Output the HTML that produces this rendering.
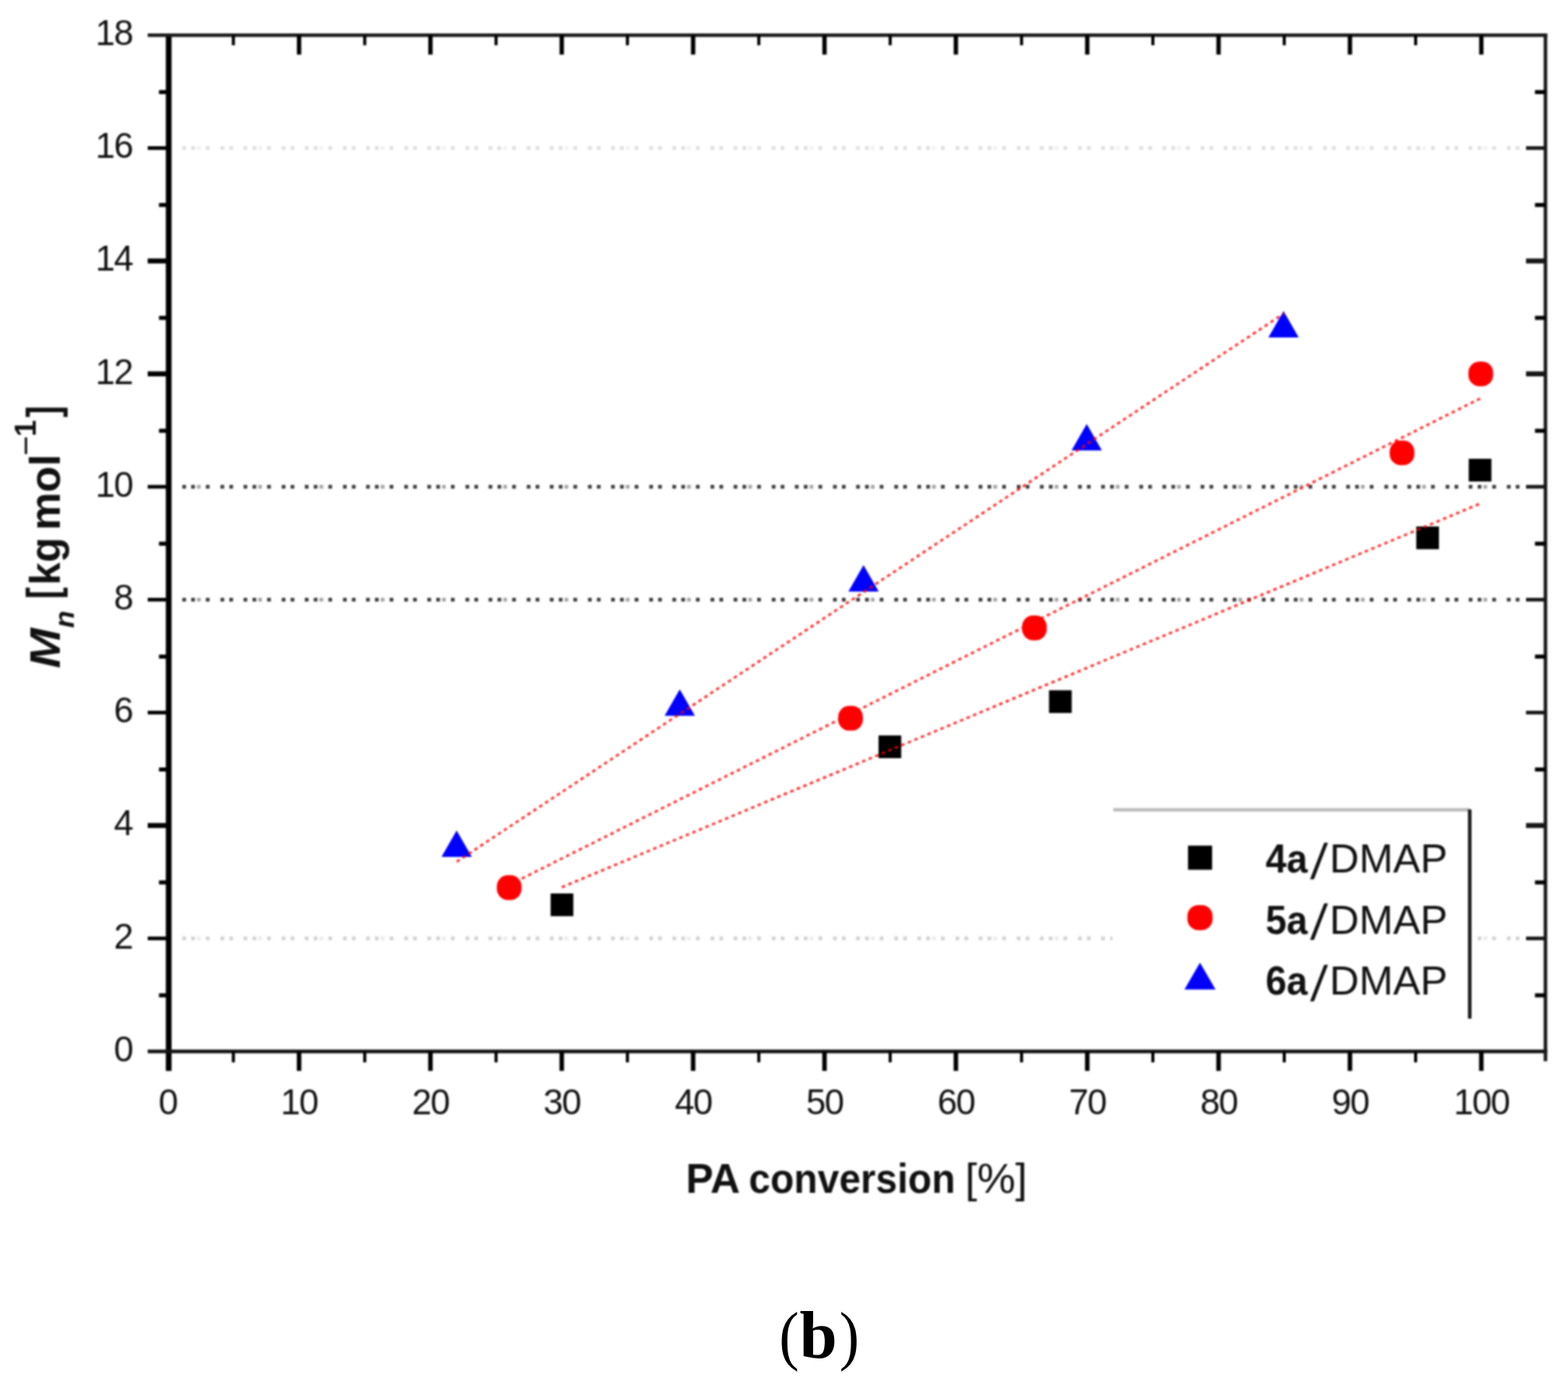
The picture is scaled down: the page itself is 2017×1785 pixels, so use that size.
<!DOCTYPE html>
<html lang="en"><head><meta charset="utf-8"><title>Mn vs PA conversion (b)</title>
<style>html,body{margin:0;padding:0;background:#fff}body{width:2017px;height:1785px;overflow:hidden}svg{display:block}.t{font-family:"Liberation Sans",sans-serif;fill:#111}.s{font-family:"Liberation Serif",serif;fill:#000}</style></head><body>
<svg width="2017" height="1785" viewBox="0 0 2017 1785">
<rect width="2017" height="1785" fill="#fff"/>
<defs><filter id="soft" filterUnits="userSpaceOnUse" x="0" y="0" width="2017" height="1620" color-interpolation-filters="sRGB"><feGaussianBlur stdDeviation="0.9"/></filter></defs>
<g filter="url(#soft)">
<rect width="2017" height="1620" fill="#fff"/>
<g fill="#dfdfdf">
<rect x="234.5" y="188.0" width="4.8" height="4.8" opacity="1.00"/>
<rect x="245.9" y="188.0" width="4.8" height="4.8" opacity="1.00"/>
<rect x="253.4" y="188.0" width="4.8" height="4.8" opacity="0.45"/>
<rect x="264.8" y="188.0" width="4.8" height="4.8" opacity="1.00"/>
<rect x="283.6" y="188.0" width="4.8" height="4.8" opacity="1.00"/>
<rect x="295.0" y="188.0" width="4.8" height="4.8" opacity="1.00"/>
<rect x="313.3" y="188.0" width="4.8" height="4.8" opacity="1.00"/>
<rect x="324.8" y="188.0" width="4.8" height="4.8" opacity="1.00"/>
<rect x="332.2" y="188.0" width="4.8" height="4.8" opacity="0.45"/>
<rect x="343.6" y="188.0" width="4.8" height="4.8" opacity="1.00"/>
<rect x="362.4" y="188.0" width="4.8" height="4.8" opacity="1.00"/>
<rect x="373.8" y="188.0" width="4.8" height="4.8" opacity="1.00"/>
<rect x="392.1" y="188.0" width="4.8" height="4.8" opacity="1.00"/>
<rect x="403.6" y="188.0" width="4.8" height="4.8" opacity="1.00"/>
<rect x="411.0" y="188.0" width="4.8" height="4.8" opacity="0.45"/>
<rect x="422.4" y="188.0" width="4.8" height="4.8" opacity="1.00"/>
<rect x="441.2" y="188.0" width="4.8" height="4.8" opacity="1.00"/>
<rect x="452.6" y="188.0" width="4.8" height="4.8" opacity="1.00"/>
<rect x="470.9" y="188.0" width="4.8" height="4.8" opacity="1.00"/>
<rect x="482.3" y="188.0" width="4.8" height="4.8" opacity="1.00"/>
<rect x="489.8" y="188.0" width="4.8" height="4.8" opacity="0.45"/>
<rect x="501.2" y="188.0" width="4.8" height="4.8" opacity="1.00"/>
<rect x="520.0" y="188.0" width="4.8" height="4.8" opacity="1.00"/>
<rect x="531.4" y="188.0" width="4.8" height="4.8" opacity="1.00"/>
<rect x="549.7" y="188.0" width="4.8" height="4.8" opacity="1.00"/>
<rect x="561.2" y="188.0" width="4.8" height="4.8" opacity="1.00"/>
<rect x="568.6" y="188.0" width="4.8" height="4.8" opacity="0.45"/>
<rect x="580.0" y="188.0" width="4.8" height="4.8" opacity="1.00"/>
<rect x="598.8" y="188.0" width="4.8" height="4.8" opacity="1.00"/>
<rect x="610.2" y="188.0" width="4.8" height="4.8" opacity="1.00"/>
<rect x="628.5" y="188.0" width="4.8" height="4.8" opacity="1.00"/>
<rect x="640.0" y="188.0" width="4.8" height="4.8" opacity="1.00"/>
<rect x="647.4" y="188.0" width="4.8" height="4.8" opacity="0.45"/>
<rect x="658.8" y="188.0" width="4.8" height="4.8" opacity="1.00"/>
<rect x="677.6" y="188.0" width="4.8" height="4.8" opacity="1.00"/>
<rect x="689.0" y="188.0" width="4.8" height="4.8" opacity="1.00"/>
<rect x="707.3" y="188.0" width="4.8" height="4.8" opacity="1.00"/>
<rect x="718.8" y="188.0" width="4.8" height="4.8" opacity="1.00"/>
<rect x="726.2" y="188.0" width="4.8" height="4.8" opacity="0.45"/>
<rect x="737.6" y="188.0" width="4.8" height="4.8" opacity="1.00"/>
<rect x="756.4" y="188.0" width="4.8" height="4.8" opacity="1.00"/>
<rect x="767.8" y="188.0" width="4.8" height="4.8" opacity="1.00"/>
<rect x="786.1" y="188.0" width="4.8" height="4.8" opacity="1.00"/>
<rect x="797.6" y="188.0" width="4.8" height="4.8" opacity="1.00"/>
<rect x="805.0" y="188.0" width="4.8" height="4.8" opacity="0.45"/>
<rect x="816.4" y="188.0" width="4.8" height="4.8" opacity="1.00"/>
<rect x="835.2" y="188.0" width="4.8" height="4.8" opacity="1.00"/>
<rect x="846.6" y="188.0" width="4.8" height="4.8" opacity="1.00"/>
<rect x="864.9" y="188.0" width="4.8" height="4.8" opacity="1.00"/>
<rect x="876.4" y="188.0" width="4.8" height="4.8" opacity="1.00"/>
<rect x="883.8" y="188.0" width="4.8" height="4.8" opacity="0.45"/>
<rect x="895.2" y="188.0" width="4.8" height="4.8" opacity="1.00"/>
<rect x="914.0" y="188.0" width="4.8" height="4.8" opacity="1.00"/>
<rect x="925.4" y="188.0" width="4.8" height="4.8" opacity="1.00"/>
<rect x="943.7" y="188.0" width="4.8" height="4.8" opacity="1.00"/>
<rect x="955.1" y="188.0" width="4.8" height="4.8" opacity="1.00"/>
<rect x="962.6" y="188.0" width="4.8" height="4.8" opacity="0.45"/>
<rect x="974.0" y="188.0" width="4.8" height="4.8" opacity="1.00"/>
<rect x="992.8" y="188.0" width="4.8" height="4.8" opacity="1.00"/>
<rect x="1004.2" y="188.0" width="4.8" height="4.8" opacity="1.00"/>
<rect x="1022.5" y="188.0" width="4.8" height="4.8" opacity="1.00"/>
<rect x="1034.0" y="188.0" width="4.8" height="4.8" opacity="1.00"/>
<rect x="1041.4" y="188.0" width="4.8" height="4.8" opacity="0.45"/>
<rect x="1052.8" y="188.0" width="4.8" height="4.8" opacity="1.00"/>
<rect x="1071.6" y="188.0" width="4.8" height="4.8" opacity="1.00"/>
<rect x="1083.0" y="188.0" width="4.8" height="4.8" opacity="1.00"/>
<rect x="1101.3" y="188.0" width="4.8" height="4.8" opacity="1.00"/>
<rect x="1112.8" y="188.0" width="4.8" height="4.8" opacity="1.00"/>
<rect x="1120.2" y="188.0" width="4.8" height="4.8" opacity="0.45"/>
<rect x="1131.6" y="188.0" width="4.8" height="4.8" opacity="1.00"/>
<rect x="1150.4" y="188.0" width="4.8" height="4.8" opacity="1.00"/>
<rect x="1161.8" y="188.0" width="4.8" height="4.8" opacity="1.00"/>
<rect x="1180.1" y="188.0" width="4.8" height="4.8" opacity="1.00"/>
<rect x="1191.5" y="188.0" width="4.8" height="4.8" opacity="1.00"/>
<rect x="1199.0" y="188.0" width="4.8" height="4.8" opacity="0.45"/>
<rect x="1210.4" y="188.0" width="4.8" height="4.8" opacity="1.00"/>
<rect x="1229.2" y="188.0" width="4.8" height="4.8" opacity="1.00"/>
<rect x="1240.6" y="188.0" width="4.8" height="4.8" opacity="1.00"/>
<rect x="1258.9" y="188.0" width="4.8" height="4.8" opacity="1.00"/>
<rect x="1270.3" y="188.0" width="4.8" height="4.8" opacity="1.00"/>
<rect x="1277.8" y="188.0" width="4.8" height="4.8" opacity="0.45"/>
<rect x="1289.2" y="188.0" width="4.8" height="4.8" opacity="1.00"/>
<rect x="1308.0" y="188.0" width="4.8" height="4.8" opacity="1.00"/>
<rect x="1319.4" y="188.0" width="4.8" height="4.8" opacity="1.00"/>
<rect x="1337.7" y="188.0" width="4.8" height="4.8" opacity="1.00"/>
<rect x="1349.2" y="188.0" width="4.8" height="4.8" opacity="1.00"/>
<rect x="1356.6" y="188.0" width="4.8" height="4.8" opacity="0.45"/>
<rect x="1368.0" y="188.0" width="4.8" height="4.8" opacity="1.00"/>
<rect x="1386.8" y="188.0" width="4.8" height="4.8" opacity="1.00"/>
<rect x="1398.2" y="188.0" width="4.8" height="4.8" opacity="1.00"/>
<rect x="1416.5" y="188.0" width="4.8" height="4.8" opacity="1.00"/>
<rect x="1428.0" y="188.0" width="4.8" height="4.8" opacity="1.00"/>
<rect x="1435.4" y="188.0" width="4.8" height="4.8" opacity="0.45"/>
<rect x="1446.8" y="188.0" width="4.8" height="4.8" opacity="1.00"/>
<rect x="1465.6" y="188.0" width="4.8" height="4.8" opacity="1.00"/>
<rect x="1477.0" y="188.0" width="4.8" height="4.8" opacity="1.00"/>
<rect x="1495.3" y="188.0" width="4.8" height="4.8" opacity="1.00"/>
<rect x="1506.8" y="188.0" width="4.8" height="4.8" opacity="1.00"/>
<rect x="1514.2" y="188.0" width="4.8" height="4.8" opacity="0.45"/>
<rect x="1525.6" y="188.0" width="4.8" height="4.8" opacity="1.00"/>
<rect x="1544.4" y="188.0" width="4.8" height="4.8" opacity="1.00"/>
<rect x="1555.8" y="188.0" width="4.8" height="4.8" opacity="1.00"/>
<rect x="1574.1" y="188.0" width="4.8" height="4.8" opacity="1.00"/>
<rect x="1585.5" y="188.0" width="4.8" height="4.8" opacity="1.00"/>
<rect x="1593.0" y="188.0" width="4.8" height="4.8" opacity="0.45"/>
<rect x="1604.4" y="188.0" width="4.8" height="4.8" opacity="1.00"/>
<rect x="1623.2" y="188.0" width="4.8" height="4.8" opacity="1.00"/>
<rect x="1634.6" y="188.0" width="4.8" height="4.8" opacity="1.00"/>
<rect x="1652.9" y="188.0" width="4.8" height="4.8" opacity="1.00"/>
<rect x="1664.3" y="188.0" width="4.8" height="4.8" opacity="1.00"/>
<rect x="1671.8" y="188.0" width="4.8" height="4.8" opacity="0.45"/>
<rect x="1683.2" y="188.0" width="4.8" height="4.8" opacity="1.00"/>
<rect x="1702.0" y="188.0" width="4.8" height="4.8" opacity="1.00"/>
<rect x="1713.4" y="188.0" width="4.8" height="4.8" opacity="1.00"/>
<rect x="1731.7" y="188.0" width="4.8" height="4.8" opacity="1.00"/>
<rect x="1743.2" y="188.0" width="4.8" height="4.8" opacity="1.00"/>
<rect x="1750.6" y="188.0" width="4.8" height="4.8" opacity="0.45"/>
<rect x="1762.0" y="188.0" width="4.8" height="4.8" opacity="1.00"/>
<rect x="1780.8" y="188.0" width="4.8" height="4.8" opacity="1.00"/>
<rect x="1792.2" y="188.0" width="4.8" height="4.8" opacity="1.00"/>
<rect x="1810.5" y="188.0" width="4.8" height="4.8" opacity="1.00"/>
<rect x="1822.0" y="188.0" width="4.8" height="4.8" opacity="1.00"/>
<rect x="1829.4" y="188.0" width="4.8" height="4.8" opacity="0.45"/>
<rect x="1840.8" y="188.0" width="4.8" height="4.8" opacity="1.00"/>
<rect x="1859.6" y="188.0" width="4.8" height="4.8" opacity="1.00"/>
<rect x="1871.0" y="188.0" width="4.8" height="4.8" opacity="1.00"/>
<rect x="1889.3" y="188.0" width="4.8" height="4.8" opacity="1.00"/>
<rect x="1900.8" y="188.0" width="4.8" height="4.8" opacity="1.00"/>
<rect x="1908.2" y="188.0" width="4.8" height="4.8" opacity="0.45"/>
<rect x="1919.6" y="188.0" width="4.8" height="4.8" opacity="1.00"/>
<rect x="1938.4" y="188.0" width="4.8" height="4.8" opacity="1.00"/>
<rect x="1949.8" y="188.0" width="4.8" height="4.8" opacity="1.00"/>
</g>
<g fill="#3c3c3c">
<rect x="234.5" y="623.6" width="4.8" height="4.8" opacity="1.00"/>
<rect x="245.9" y="623.6" width="4.8" height="4.8" opacity="1.00"/>
<rect x="253.4" y="623.6" width="4.8" height="4.8" opacity="0.45"/>
<rect x="264.8" y="623.6" width="4.8" height="4.8" opacity="1.00"/>
<rect x="283.6" y="623.6" width="4.8" height="4.8" opacity="1.00"/>
<rect x="295.0" y="623.6" width="4.8" height="4.8" opacity="1.00"/>
<rect x="313.3" y="623.6" width="4.8" height="4.8" opacity="1.00"/>
<rect x="324.8" y="623.6" width="4.8" height="4.8" opacity="1.00"/>
<rect x="332.2" y="623.6" width="4.8" height="4.8" opacity="0.45"/>
<rect x="343.6" y="623.6" width="4.8" height="4.8" opacity="1.00"/>
<rect x="362.4" y="623.6" width="4.8" height="4.8" opacity="1.00"/>
<rect x="373.8" y="623.6" width="4.8" height="4.8" opacity="1.00"/>
<rect x="392.1" y="623.6" width="4.8" height="4.8" opacity="1.00"/>
<rect x="403.6" y="623.6" width="4.8" height="4.8" opacity="1.00"/>
<rect x="411.0" y="623.6" width="4.8" height="4.8" opacity="0.45"/>
<rect x="422.4" y="623.6" width="4.8" height="4.8" opacity="1.00"/>
<rect x="441.2" y="623.6" width="4.8" height="4.8" opacity="1.00"/>
<rect x="452.6" y="623.6" width="4.8" height="4.8" opacity="1.00"/>
<rect x="470.9" y="623.6" width="4.8" height="4.8" opacity="1.00"/>
<rect x="482.3" y="623.6" width="4.8" height="4.8" opacity="1.00"/>
<rect x="489.8" y="623.6" width="4.8" height="4.8" opacity="0.45"/>
<rect x="501.2" y="623.6" width="4.8" height="4.8" opacity="1.00"/>
<rect x="520.0" y="623.6" width="4.8" height="4.8" opacity="1.00"/>
<rect x="531.4" y="623.6" width="4.8" height="4.8" opacity="1.00"/>
<rect x="549.7" y="623.6" width="4.8" height="4.8" opacity="1.00"/>
<rect x="561.2" y="623.6" width="4.8" height="4.8" opacity="1.00"/>
<rect x="568.6" y="623.6" width="4.8" height="4.8" opacity="0.45"/>
<rect x="580.0" y="623.6" width="4.8" height="4.8" opacity="1.00"/>
<rect x="598.8" y="623.6" width="4.8" height="4.8" opacity="1.00"/>
<rect x="610.2" y="623.6" width="4.8" height="4.8" opacity="1.00"/>
<rect x="628.5" y="623.6" width="4.8" height="4.8" opacity="1.00"/>
<rect x="640.0" y="623.6" width="4.8" height="4.8" opacity="1.00"/>
<rect x="647.4" y="623.6" width="4.8" height="4.8" opacity="0.45"/>
<rect x="658.8" y="623.6" width="4.8" height="4.8" opacity="1.00"/>
<rect x="677.6" y="623.6" width="4.8" height="4.8" opacity="1.00"/>
<rect x="689.0" y="623.6" width="4.8" height="4.8" opacity="1.00"/>
<rect x="707.3" y="623.6" width="4.8" height="4.8" opacity="1.00"/>
<rect x="718.8" y="623.6" width="4.8" height="4.8" opacity="1.00"/>
<rect x="726.2" y="623.6" width="4.8" height="4.8" opacity="0.45"/>
<rect x="737.6" y="623.6" width="4.8" height="4.8" opacity="1.00"/>
<rect x="756.4" y="623.6" width="4.8" height="4.8" opacity="1.00"/>
<rect x="767.8" y="623.6" width="4.8" height="4.8" opacity="1.00"/>
<rect x="786.1" y="623.6" width="4.8" height="4.8" opacity="1.00"/>
<rect x="797.6" y="623.6" width="4.8" height="4.8" opacity="1.00"/>
<rect x="805.0" y="623.6" width="4.8" height="4.8" opacity="0.45"/>
<rect x="816.4" y="623.6" width="4.8" height="4.8" opacity="1.00"/>
<rect x="835.2" y="623.6" width="4.8" height="4.8" opacity="1.00"/>
<rect x="846.6" y="623.6" width="4.8" height="4.8" opacity="1.00"/>
<rect x="864.9" y="623.6" width="4.8" height="4.8" opacity="1.00"/>
<rect x="876.4" y="623.6" width="4.8" height="4.8" opacity="1.00"/>
<rect x="883.8" y="623.6" width="4.8" height="4.8" opacity="0.45"/>
<rect x="895.2" y="623.6" width="4.8" height="4.8" opacity="1.00"/>
<rect x="914.0" y="623.6" width="4.8" height="4.8" opacity="1.00"/>
<rect x="925.4" y="623.6" width="4.8" height="4.8" opacity="1.00"/>
<rect x="943.7" y="623.6" width="4.8" height="4.8" opacity="1.00"/>
<rect x="955.1" y="623.6" width="4.8" height="4.8" opacity="1.00"/>
<rect x="962.6" y="623.6" width="4.8" height="4.8" opacity="0.45"/>
<rect x="974.0" y="623.6" width="4.8" height="4.8" opacity="1.00"/>
<rect x="992.8" y="623.6" width="4.8" height="4.8" opacity="1.00"/>
<rect x="1004.2" y="623.6" width="4.8" height="4.8" opacity="1.00"/>
<rect x="1022.5" y="623.6" width="4.8" height="4.8" opacity="1.00"/>
<rect x="1034.0" y="623.6" width="4.8" height="4.8" opacity="1.00"/>
<rect x="1041.4" y="623.6" width="4.8" height="4.8" opacity="0.45"/>
<rect x="1052.8" y="623.6" width="4.8" height="4.8" opacity="1.00"/>
<rect x="1071.6" y="623.6" width="4.8" height="4.8" opacity="1.00"/>
<rect x="1083.0" y="623.6" width="4.8" height="4.8" opacity="1.00"/>
<rect x="1101.3" y="623.6" width="4.8" height="4.8" opacity="1.00"/>
<rect x="1112.8" y="623.6" width="4.8" height="4.8" opacity="1.00"/>
<rect x="1120.2" y="623.6" width="4.8" height="4.8" opacity="0.45"/>
<rect x="1131.6" y="623.6" width="4.8" height="4.8" opacity="1.00"/>
<rect x="1150.4" y="623.6" width="4.8" height="4.8" opacity="1.00"/>
<rect x="1161.8" y="623.6" width="4.8" height="4.8" opacity="1.00"/>
<rect x="1180.1" y="623.6" width="4.8" height="4.8" opacity="1.00"/>
<rect x="1191.5" y="623.6" width="4.8" height="4.8" opacity="1.00"/>
<rect x="1199.0" y="623.6" width="4.8" height="4.8" opacity="0.45"/>
<rect x="1210.4" y="623.6" width="4.8" height="4.8" opacity="1.00"/>
<rect x="1229.2" y="623.6" width="4.8" height="4.8" opacity="1.00"/>
<rect x="1240.6" y="623.6" width="4.8" height="4.8" opacity="1.00"/>
<rect x="1258.9" y="623.6" width="4.8" height="4.8" opacity="1.00"/>
<rect x="1270.3" y="623.6" width="4.8" height="4.8" opacity="1.00"/>
<rect x="1277.8" y="623.6" width="4.8" height="4.8" opacity="0.45"/>
<rect x="1289.2" y="623.6" width="4.8" height="4.8" opacity="1.00"/>
<rect x="1308.0" y="623.6" width="4.8" height="4.8" opacity="1.00"/>
<rect x="1319.4" y="623.6" width="4.8" height="4.8" opacity="1.00"/>
<rect x="1337.7" y="623.6" width="4.8" height="4.8" opacity="1.00"/>
<rect x="1349.2" y="623.6" width="4.8" height="4.8" opacity="1.00"/>
<rect x="1356.6" y="623.6" width="4.8" height="4.8" opacity="0.45"/>
<rect x="1368.0" y="623.6" width="4.8" height="4.8" opacity="1.00"/>
<rect x="1386.8" y="623.6" width="4.8" height="4.8" opacity="1.00"/>
<rect x="1398.2" y="623.6" width="4.8" height="4.8" opacity="1.00"/>
<rect x="1416.5" y="623.6" width="4.8" height="4.8" opacity="1.00"/>
<rect x="1428.0" y="623.6" width="4.8" height="4.8" opacity="1.00"/>
<rect x="1435.4" y="623.6" width="4.8" height="4.8" opacity="0.45"/>
<rect x="1446.8" y="623.6" width="4.8" height="4.8" opacity="1.00"/>
<rect x="1465.6" y="623.6" width="4.8" height="4.8" opacity="1.00"/>
<rect x="1477.0" y="623.6" width="4.8" height="4.8" opacity="1.00"/>
<rect x="1495.3" y="623.6" width="4.8" height="4.8" opacity="1.00"/>
<rect x="1506.8" y="623.6" width="4.8" height="4.8" opacity="1.00"/>
<rect x="1514.2" y="623.6" width="4.8" height="4.8" opacity="0.45"/>
<rect x="1525.6" y="623.6" width="4.8" height="4.8" opacity="1.00"/>
<rect x="1544.4" y="623.6" width="4.8" height="4.8" opacity="1.00"/>
<rect x="1555.8" y="623.6" width="4.8" height="4.8" opacity="1.00"/>
<rect x="1574.1" y="623.6" width="4.8" height="4.8" opacity="1.00"/>
<rect x="1585.5" y="623.6" width="4.8" height="4.8" opacity="1.00"/>
<rect x="1593.0" y="623.6" width="4.8" height="4.8" opacity="0.45"/>
<rect x="1604.4" y="623.6" width="4.8" height="4.8" opacity="1.00"/>
<rect x="1623.2" y="623.6" width="4.8" height="4.8" opacity="1.00"/>
<rect x="1634.6" y="623.6" width="4.8" height="4.8" opacity="1.00"/>
<rect x="1652.9" y="623.6" width="4.8" height="4.8" opacity="1.00"/>
<rect x="1664.3" y="623.6" width="4.8" height="4.8" opacity="1.00"/>
<rect x="1671.8" y="623.6" width="4.8" height="4.8" opacity="0.45"/>
<rect x="1683.2" y="623.6" width="4.8" height="4.8" opacity="1.00"/>
<rect x="1702.0" y="623.6" width="4.8" height="4.8" opacity="1.00"/>
<rect x="1713.4" y="623.6" width="4.8" height="4.8" opacity="1.00"/>
<rect x="1731.7" y="623.6" width="4.8" height="4.8" opacity="1.00"/>
<rect x="1743.2" y="623.6" width="4.8" height="4.8" opacity="1.00"/>
<rect x="1750.6" y="623.6" width="4.8" height="4.8" opacity="0.45"/>
<rect x="1762.0" y="623.6" width="4.8" height="4.8" opacity="1.00"/>
<rect x="1780.8" y="623.6" width="4.8" height="4.8" opacity="1.00"/>
<rect x="1792.2" y="623.6" width="4.8" height="4.8" opacity="1.00"/>
<rect x="1810.5" y="623.6" width="4.8" height="4.8" opacity="1.00"/>
<rect x="1822.0" y="623.6" width="4.8" height="4.8" opacity="1.00"/>
<rect x="1829.4" y="623.6" width="4.8" height="4.8" opacity="0.45"/>
<rect x="1840.8" y="623.6" width="4.8" height="4.8" opacity="1.00"/>
<rect x="1859.6" y="623.6" width="4.8" height="4.8" opacity="1.00"/>
<rect x="1871.0" y="623.6" width="4.8" height="4.8" opacity="1.00"/>
<rect x="1889.3" y="623.6" width="4.8" height="4.8" opacity="1.00"/>
<rect x="1900.8" y="623.6" width="4.8" height="4.8" opacity="1.00"/>
<rect x="1908.2" y="623.6" width="4.8" height="4.8" opacity="0.45"/>
<rect x="1919.6" y="623.6" width="4.8" height="4.8" opacity="1.00"/>
<rect x="1938.4" y="623.6" width="4.8" height="4.8" opacity="1.00"/>
<rect x="1949.8" y="623.6" width="4.8" height="4.8" opacity="1.00"/>
</g>
<g fill="#3c3c3c">
<rect x="234.5" y="768.8" width="4.8" height="4.8" opacity="1.00"/>
<rect x="245.9" y="768.8" width="4.8" height="4.8" opacity="1.00"/>
<rect x="253.4" y="768.8" width="4.8" height="4.8" opacity="0.45"/>
<rect x="264.8" y="768.8" width="4.8" height="4.8" opacity="1.00"/>
<rect x="283.6" y="768.8" width="4.8" height="4.8" opacity="1.00"/>
<rect x="295.0" y="768.8" width="4.8" height="4.8" opacity="1.00"/>
<rect x="313.3" y="768.8" width="4.8" height="4.8" opacity="1.00"/>
<rect x="324.8" y="768.8" width="4.8" height="4.8" opacity="1.00"/>
<rect x="332.2" y="768.8" width="4.8" height="4.8" opacity="0.45"/>
<rect x="343.6" y="768.8" width="4.8" height="4.8" opacity="1.00"/>
<rect x="362.4" y="768.8" width="4.8" height="4.8" opacity="1.00"/>
<rect x="373.8" y="768.8" width="4.8" height="4.8" opacity="1.00"/>
<rect x="392.1" y="768.8" width="4.8" height="4.8" opacity="1.00"/>
<rect x="403.6" y="768.8" width="4.8" height="4.8" opacity="1.00"/>
<rect x="411.0" y="768.8" width="4.8" height="4.8" opacity="0.45"/>
<rect x="422.4" y="768.8" width="4.8" height="4.8" opacity="1.00"/>
<rect x="441.2" y="768.8" width="4.8" height="4.8" opacity="1.00"/>
<rect x="452.6" y="768.8" width="4.8" height="4.8" opacity="1.00"/>
<rect x="470.9" y="768.8" width="4.8" height="4.8" opacity="1.00"/>
<rect x="482.3" y="768.8" width="4.8" height="4.8" opacity="1.00"/>
<rect x="489.8" y="768.8" width="4.8" height="4.8" opacity="0.45"/>
<rect x="501.2" y="768.8" width="4.8" height="4.8" opacity="1.00"/>
<rect x="520.0" y="768.8" width="4.8" height="4.8" opacity="1.00"/>
<rect x="531.4" y="768.8" width="4.8" height="4.8" opacity="1.00"/>
<rect x="549.7" y="768.8" width="4.8" height="4.8" opacity="1.00"/>
<rect x="561.2" y="768.8" width="4.8" height="4.8" opacity="1.00"/>
<rect x="568.6" y="768.8" width="4.8" height="4.8" opacity="0.45"/>
<rect x="580.0" y="768.8" width="4.8" height="4.8" opacity="1.00"/>
<rect x="598.8" y="768.8" width="4.8" height="4.8" opacity="1.00"/>
<rect x="610.2" y="768.8" width="4.8" height="4.8" opacity="1.00"/>
<rect x="628.5" y="768.8" width="4.8" height="4.8" opacity="1.00"/>
<rect x="640.0" y="768.8" width="4.8" height="4.8" opacity="1.00"/>
<rect x="647.4" y="768.8" width="4.8" height="4.8" opacity="0.45"/>
<rect x="658.8" y="768.8" width="4.8" height="4.8" opacity="1.00"/>
<rect x="677.6" y="768.8" width="4.8" height="4.8" opacity="1.00"/>
<rect x="689.0" y="768.8" width="4.8" height="4.8" opacity="1.00"/>
<rect x="707.3" y="768.8" width="4.8" height="4.8" opacity="1.00"/>
<rect x="718.8" y="768.8" width="4.8" height="4.8" opacity="1.00"/>
<rect x="726.2" y="768.8" width="4.8" height="4.8" opacity="0.45"/>
<rect x="737.6" y="768.8" width="4.8" height="4.8" opacity="1.00"/>
<rect x="756.4" y="768.8" width="4.8" height="4.8" opacity="1.00"/>
<rect x="767.8" y="768.8" width="4.8" height="4.8" opacity="1.00"/>
<rect x="786.1" y="768.8" width="4.8" height="4.8" opacity="1.00"/>
<rect x="797.6" y="768.8" width="4.8" height="4.8" opacity="1.00"/>
<rect x="805.0" y="768.8" width="4.8" height="4.8" opacity="0.45"/>
<rect x="816.4" y="768.8" width="4.8" height="4.8" opacity="1.00"/>
<rect x="835.2" y="768.8" width="4.8" height="4.8" opacity="1.00"/>
<rect x="846.6" y="768.8" width="4.8" height="4.8" opacity="1.00"/>
<rect x="864.9" y="768.8" width="4.8" height="4.8" opacity="1.00"/>
<rect x="876.4" y="768.8" width="4.8" height="4.8" opacity="1.00"/>
<rect x="883.8" y="768.8" width="4.8" height="4.8" opacity="0.45"/>
<rect x="895.2" y="768.8" width="4.8" height="4.8" opacity="1.00"/>
<rect x="914.0" y="768.8" width="4.8" height="4.8" opacity="1.00"/>
<rect x="925.4" y="768.8" width="4.8" height="4.8" opacity="1.00"/>
<rect x="943.7" y="768.8" width="4.8" height="4.8" opacity="1.00"/>
<rect x="955.1" y="768.8" width="4.8" height="4.8" opacity="1.00"/>
<rect x="962.6" y="768.8" width="4.8" height="4.8" opacity="0.45"/>
<rect x="974.0" y="768.8" width="4.8" height="4.8" opacity="1.00"/>
<rect x="992.8" y="768.8" width="4.8" height="4.8" opacity="1.00"/>
<rect x="1004.2" y="768.8" width="4.8" height="4.8" opacity="1.00"/>
<rect x="1022.5" y="768.8" width="4.8" height="4.8" opacity="1.00"/>
<rect x="1034.0" y="768.8" width="4.8" height="4.8" opacity="1.00"/>
<rect x="1041.4" y="768.8" width="4.8" height="4.8" opacity="0.45"/>
<rect x="1052.8" y="768.8" width="4.8" height="4.8" opacity="1.00"/>
<rect x="1071.6" y="768.8" width="4.8" height="4.8" opacity="1.00"/>
<rect x="1083.0" y="768.8" width="4.8" height="4.8" opacity="1.00"/>
<rect x="1101.3" y="768.8" width="4.8" height="4.8" opacity="1.00"/>
<rect x="1112.8" y="768.8" width="4.8" height="4.8" opacity="1.00"/>
<rect x="1120.2" y="768.8" width="4.8" height="4.8" opacity="0.45"/>
<rect x="1131.6" y="768.8" width="4.8" height="4.8" opacity="1.00"/>
<rect x="1150.4" y="768.8" width="4.8" height="4.8" opacity="1.00"/>
<rect x="1161.8" y="768.8" width="4.8" height="4.8" opacity="1.00"/>
<rect x="1180.1" y="768.8" width="4.8" height="4.8" opacity="1.00"/>
<rect x="1191.5" y="768.8" width="4.8" height="4.8" opacity="1.00"/>
<rect x="1199.0" y="768.8" width="4.8" height="4.8" opacity="0.45"/>
<rect x="1210.4" y="768.8" width="4.8" height="4.8" opacity="1.00"/>
<rect x="1229.2" y="768.8" width="4.8" height="4.8" opacity="1.00"/>
<rect x="1240.6" y="768.8" width="4.8" height="4.8" opacity="1.00"/>
<rect x="1258.9" y="768.8" width="4.8" height="4.8" opacity="1.00"/>
<rect x="1270.3" y="768.8" width="4.8" height="4.8" opacity="1.00"/>
<rect x="1277.8" y="768.8" width="4.8" height="4.8" opacity="0.45"/>
<rect x="1289.2" y="768.8" width="4.8" height="4.8" opacity="1.00"/>
<rect x="1308.0" y="768.8" width="4.8" height="4.8" opacity="1.00"/>
<rect x="1319.4" y="768.8" width="4.8" height="4.8" opacity="1.00"/>
<rect x="1337.7" y="768.8" width="4.8" height="4.8" opacity="1.00"/>
<rect x="1349.2" y="768.8" width="4.8" height="4.8" opacity="1.00"/>
<rect x="1356.6" y="768.8" width="4.8" height="4.8" opacity="0.45"/>
<rect x="1368.0" y="768.8" width="4.8" height="4.8" opacity="1.00"/>
<rect x="1386.8" y="768.8" width="4.8" height="4.8" opacity="1.00"/>
<rect x="1398.2" y="768.8" width="4.8" height="4.8" opacity="1.00"/>
<rect x="1416.5" y="768.8" width="4.8" height="4.8" opacity="1.00"/>
<rect x="1428.0" y="768.8" width="4.8" height="4.8" opacity="1.00"/>
<rect x="1435.4" y="768.8" width="4.8" height="4.8" opacity="0.45"/>
<rect x="1446.8" y="768.8" width="4.8" height="4.8" opacity="1.00"/>
<rect x="1465.6" y="768.8" width="4.8" height="4.8" opacity="1.00"/>
<rect x="1477.0" y="768.8" width="4.8" height="4.8" opacity="1.00"/>
<rect x="1495.3" y="768.8" width="4.8" height="4.8" opacity="1.00"/>
<rect x="1506.8" y="768.8" width="4.8" height="4.8" opacity="1.00"/>
<rect x="1514.2" y="768.8" width="4.8" height="4.8" opacity="0.45"/>
<rect x="1525.6" y="768.8" width="4.8" height="4.8" opacity="1.00"/>
<rect x="1544.4" y="768.8" width="4.8" height="4.8" opacity="1.00"/>
<rect x="1555.8" y="768.8" width="4.8" height="4.8" opacity="1.00"/>
<rect x="1574.1" y="768.8" width="4.8" height="4.8" opacity="1.00"/>
<rect x="1585.5" y="768.8" width="4.8" height="4.8" opacity="1.00"/>
<rect x="1593.0" y="768.8" width="4.8" height="4.8" opacity="0.45"/>
<rect x="1604.4" y="768.8" width="4.8" height="4.8" opacity="1.00"/>
<rect x="1623.2" y="768.8" width="4.8" height="4.8" opacity="1.00"/>
<rect x="1634.6" y="768.8" width="4.8" height="4.8" opacity="1.00"/>
<rect x="1652.9" y="768.8" width="4.8" height="4.8" opacity="1.00"/>
<rect x="1664.3" y="768.8" width="4.8" height="4.8" opacity="1.00"/>
<rect x="1671.8" y="768.8" width="4.8" height="4.8" opacity="0.45"/>
<rect x="1683.2" y="768.8" width="4.8" height="4.8" opacity="1.00"/>
<rect x="1702.0" y="768.8" width="4.8" height="4.8" opacity="1.00"/>
<rect x="1713.4" y="768.8" width="4.8" height="4.8" opacity="1.00"/>
<rect x="1731.7" y="768.8" width="4.8" height="4.8" opacity="1.00"/>
<rect x="1743.2" y="768.8" width="4.8" height="4.8" opacity="1.00"/>
<rect x="1750.6" y="768.8" width="4.8" height="4.8" opacity="0.45"/>
<rect x="1762.0" y="768.8" width="4.8" height="4.8" opacity="1.00"/>
<rect x="1780.8" y="768.8" width="4.8" height="4.8" opacity="1.00"/>
<rect x="1792.2" y="768.8" width="4.8" height="4.8" opacity="1.00"/>
<rect x="1810.5" y="768.8" width="4.8" height="4.8" opacity="1.00"/>
<rect x="1822.0" y="768.8" width="4.8" height="4.8" opacity="1.00"/>
<rect x="1829.4" y="768.8" width="4.8" height="4.8" opacity="0.45"/>
<rect x="1840.8" y="768.8" width="4.8" height="4.8" opacity="1.00"/>
<rect x="1859.6" y="768.8" width="4.8" height="4.8" opacity="1.00"/>
<rect x="1871.0" y="768.8" width="4.8" height="4.8" opacity="1.00"/>
<rect x="1889.3" y="768.8" width="4.8" height="4.8" opacity="1.00"/>
<rect x="1900.8" y="768.8" width="4.8" height="4.8" opacity="1.00"/>
<rect x="1908.2" y="768.8" width="4.8" height="4.8" opacity="0.45"/>
<rect x="1919.6" y="768.8" width="4.8" height="4.8" opacity="1.00"/>
<rect x="1938.4" y="768.8" width="4.8" height="4.8" opacity="1.00"/>
<rect x="1949.8" y="768.8" width="4.8" height="4.8" opacity="1.00"/>
</g>
<g fill="#d2d2d2">
<rect x="234.5" y="1204.4" width="4.8" height="4.8" opacity="1.00"/>
<rect x="245.9" y="1204.4" width="4.8" height="4.8" opacity="1.00"/>
<rect x="253.4" y="1204.4" width="4.8" height="4.8" opacity="0.45"/>
<rect x="264.8" y="1204.4" width="4.8" height="4.8" opacity="1.00"/>
<rect x="283.6" y="1204.4" width="4.8" height="4.8" opacity="1.00"/>
<rect x="295.0" y="1204.4" width="4.8" height="4.8" opacity="1.00"/>
<rect x="313.3" y="1204.4" width="4.8" height="4.8" opacity="1.00"/>
<rect x="324.8" y="1204.4" width="4.8" height="4.8" opacity="1.00"/>
<rect x="332.2" y="1204.4" width="4.8" height="4.8" opacity="0.45"/>
<rect x="343.6" y="1204.4" width="4.8" height="4.8" opacity="1.00"/>
<rect x="362.4" y="1204.4" width="4.8" height="4.8" opacity="1.00"/>
<rect x="373.8" y="1204.4" width="4.8" height="4.8" opacity="1.00"/>
<rect x="392.1" y="1204.4" width="4.8" height="4.8" opacity="1.00"/>
<rect x="403.6" y="1204.4" width="4.8" height="4.8" opacity="1.00"/>
<rect x="411.0" y="1204.4" width="4.8" height="4.8" opacity="0.45"/>
<rect x="422.4" y="1204.4" width="4.8" height="4.8" opacity="1.00"/>
<rect x="441.2" y="1204.4" width="4.8" height="4.8" opacity="1.00"/>
<rect x="452.6" y="1204.4" width="4.8" height="4.8" opacity="1.00"/>
<rect x="470.9" y="1204.4" width="4.8" height="4.8" opacity="1.00"/>
<rect x="482.3" y="1204.4" width="4.8" height="4.8" opacity="1.00"/>
<rect x="489.8" y="1204.4" width="4.8" height="4.8" opacity="0.45"/>
<rect x="501.2" y="1204.4" width="4.8" height="4.8" opacity="1.00"/>
<rect x="520.0" y="1204.4" width="4.8" height="4.8" opacity="1.00"/>
<rect x="531.4" y="1204.4" width="4.8" height="4.8" opacity="1.00"/>
<rect x="549.7" y="1204.4" width="4.8" height="4.8" opacity="1.00"/>
<rect x="561.2" y="1204.4" width="4.8" height="4.8" opacity="1.00"/>
<rect x="568.6" y="1204.4" width="4.8" height="4.8" opacity="0.45"/>
<rect x="580.0" y="1204.4" width="4.8" height="4.8" opacity="1.00"/>
<rect x="598.8" y="1204.4" width="4.8" height="4.8" opacity="1.00"/>
<rect x="610.2" y="1204.4" width="4.8" height="4.8" opacity="1.00"/>
<rect x="628.5" y="1204.4" width="4.8" height="4.8" opacity="1.00"/>
<rect x="640.0" y="1204.4" width="4.8" height="4.8" opacity="1.00"/>
<rect x="647.4" y="1204.4" width="4.8" height="4.8" opacity="0.45"/>
<rect x="658.8" y="1204.4" width="4.8" height="4.8" opacity="1.00"/>
<rect x="677.6" y="1204.4" width="4.8" height="4.8" opacity="1.00"/>
<rect x="689.0" y="1204.4" width="4.8" height="4.8" opacity="1.00"/>
<rect x="707.3" y="1204.4" width="4.8" height="4.8" opacity="1.00"/>
<rect x="718.8" y="1204.4" width="4.8" height="4.8" opacity="1.00"/>
<rect x="726.2" y="1204.4" width="4.8" height="4.8" opacity="0.45"/>
<rect x="737.6" y="1204.4" width="4.8" height="4.8" opacity="1.00"/>
<rect x="756.4" y="1204.4" width="4.8" height="4.8" opacity="1.00"/>
<rect x="767.8" y="1204.4" width="4.8" height="4.8" opacity="1.00"/>
<rect x="786.1" y="1204.4" width="4.8" height="4.8" opacity="1.00"/>
<rect x="797.6" y="1204.4" width="4.8" height="4.8" opacity="1.00"/>
<rect x="805.0" y="1204.4" width="4.8" height="4.8" opacity="0.45"/>
<rect x="816.4" y="1204.4" width="4.8" height="4.8" opacity="1.00"/>
<rect x="835.2" y="1204.4" width="4.8" height="4.8" opacity="1.00"/>
<rect x="846.6" y="1204.4" width="4.8" height="4.8" opacity="1.00"/>
<rect x="864.9" y="1204.4" width="4.8" height="4.8" opacity="1.00"/>
<rect x="876.4" y="1204.4" width="4.8" height="4.8" opacity="1.00"/>
<rect x="883.8" y="1204.4" width="4.8" height="4.8" opacity="0.45"/>
<rect x="895.2" y="1204.4" width="4.8" height="4.8" opacity="1.00"/>
<rect x="914.0" y="1204.4" width="4.8" height="4.8" opacity="1.00"/>
<rect x="925.4" y="1204.4" width="4.8" height="4.8" opacity="1.00"/>
<rect x="943.7" y="1204.4" width="4.8" height="4.8" opacity="1.00"/>
<rect x="955.1" y="1204.4" width="4.8" height="4.8" opacity="1.00"/>
<rect x="962.6" y="1204.4" width="4.8" height="4.8" opacity="0.45"/>
<rect x="974.0" y="1204.4" width="4.8" height="4.8" opacity="1.00"/>
<rect x="992.8" y="1204.4" width="4.8" height="4.8" opacity="1.00"/>
<rect x="1004.2" y="1204.4" width="4.8" height="4.8" opacity="1.00"/>
<rect x="1022.5" y="1204.4" width="4.8" height="4.8" opacity="1.00"/>
<rect x="1034.0" y="1204.4" width="4.8" height="4.8" opacity="1.00"/>
<rect x="1041.4" y="1204.4" width="4.8" height="4.8" opacity="0.45"/>
<rect x="1052.8" y="1204.4" width="4.8" height="4.8" opacity="1.00"/>
<rect x="1071.6" y="1204.4" width="4.8" height="4.8" opacity="1.00"/>
<rect x="1083.0" y="1204.4" width="4.8" height="4.8" opacity="1.00"/>
<rect x="1101.3" y="1204.4" width="4.8" height="4.8" opacity="1.00"/>
<rect x="1112.8" y="1204.4" width="4.8" height="4.8" opacity="1.00"/>
<rect x="1120.2" y="1204.4" width="4.8" height="4.8" opacity="0.45"/>
<rect x="1131.6" y="1204.4" width="4.8" height="4.8" opacity="1.00"/>
<rect x="1150.4" y="1204.4" width="4.8" height="4.8" opacity="1.00"/>
<rect x="1161.8" y="1204.4" width="4.8" height="4.8" opacity="1.00"/>
<rect x="1180.1" y="1204.4" width="4.8" height="4.8" opacity="1.00"/>
<rect x="1191.5" y="1204.4" width="4.8" height="4.8" opacity="1.00"/>
<rect x="1199.0" y="1204.4" width="4.8" height="4.8" opacity="0.45"/>
<rect x="1210.4" y="1204.4" width="4.8" height="4.8" opacity="1.00"/>
<rect x="1229.2" y="1204.4" width="4.8" height="4.8" opacity="1.00"/>
<rect x="1240.6" y="1204.4" width="4.8" height="4.8" opacity="1.00"/>
<rect x="1258.9" y="1204.4" width="4.8" height="4.8" opacity="1.00"/>
<rect x="1270.3" y="1204.4" width="4.8" height="4.8" opacity="1.00"/>
<rect x="1277.8" y="1204.4" width="4.8" height="4.8" opacity="0.45"/>
<rect x="1289.2" y="1204.4" width="4.8" height="4.8" opacity="1.00"/>
<rect x="1308.0" y="1204.4" width="4.8" height="4.8" opacity="1.00"/>
<rect x="1319.4" y="1204.4" width="4.8" height="4.8" opacity="1.00"/>
<rect x="1337.7" y="1204.4" width="4.8" height="4.8" opacity="1.00"/>
<rect x="1349.2" y="1204.4" width="4.8" height="4.8" opacity="1.00"/>
<rect x="1356.6" y="1204.4" width="4.8" height="4.8" opacity="0.45"/>
<rect x="1368.0" y="1204.4" width="4.8" height="4.8" opacity="1.00"/>
<rect x="1386.8" y="1204.4" width="4.8" height="4.8" opacity="1.00"/>
<rect x="1398.2" y="1204.4" width="4.8" height="4.8" opacity="1.00"/>
<rect x="1416.5" y="1204.4" width="4.8" height="4.8" opacity="1.00"/>
<rect x="1428.0" y="1204.4" width="4.8" height="4.8" opacity="1.00"/>
<rect x="1435.4" y="1204.4" width="4.8" height="4.8" opacity="0.45"/>
<rect x="1446.8" y="1204.4" width="4.8" height="4.8" opacity="1.00"/>
<rect x="1465.6" y="1204.4" width="4.8" height="4.8" opacity="1.00"/>
<rect x="1477.0" y="1204.4" width="4.8" height="4.8" opacity="1.00"/>
<rect x="1495.3" y="1204.4" width="4.8" height="4.8" opacity="1.00"/>
<rect x="1506.8" y="1204.4" width="4.8" height="4.8" opacity="1.00"/>
<rect x="1514.2" y="1204.4" width="4.8" height="4.8" opacity="0.45"/>
<rect x="1525.6" y="1204.4" width="4.8" height="4.8" opacity="1.00"/>
<rect x="1544.4" y="1204.4" width="4.8" height="4.8" opacity="1.00"/>
<rect x="1555.8" y="1204.4" width="4.8" height="4.8" opacity="1.00"/>
<rect x="1574.1" y="1204.4" width="4.8" height="4.8" opacity="1.00"/>
<rect x="1585.5" y="1204.4" width="4.8" height="4.8" opacity="1.00"/>
<rect x="1593.0" y="1204.4" width="4.8" height="4.8" opacity="0.45"/>
<rect x="1604.4" y="1204.4" width="4.8" height="4.8" opacity="1.00"/>
<rect x="1623.2" y="1204.4" width="4.8" height="4.8" opacity="1.00"/>
<rect x="1634.6" y="1204.4" width="4.8" height="4.8" opacity="1.00"/>
<rect x="1652.9" y="1204.4" width="4.8" height="4.8" opacity="1.00"/>
<rect x="1664.3" y="1204.4" width="4.8" height="4.8" opacity="1.00"/>
<rect x="1671.8" y="1204.4" width="4.8" height="4.8" opacity="0.45"/>
<rect x="1683.2" y="1204.4" width="4.8" height="4.8" opacity="1.00"/>
<rect x="1702.0" y="1204.4" width="4.8" height="4.8" opacity="1.00"/>
<rect x="1713.4" y="1204.4" width="4.8" height="4.8" opacity="1.00"/>
<rect x="1731.7" y="1204.4" width="4.8" height="4.8" opacity="1.00"/>
<rect x="1743.2" y="1204.4" width="4.8" height="4.8" opacity="1.00"/>
<rect x="1750.6" y="1204.4" width="4.8" height="4.8" opacity="0.45"/>
<rect x="1762.0" y="1204.4" width="4.8" height="4.8" opacity="1.00"/>
<rect x="1780.8" y="1204.4" width="4.8" height="4.8" opacity="1.00"/>
<rect x="1792.2" y="1204.4" width="4.8" height="4.8" opacity="1.00"/>
<rect x="1810.5" y="1204.4" width="4.8" height="4.8" opacity="1.00"/>
<rect x="1822.0" y="1204.4" width="4.8" height="4.8" opacity="1.00"/>
<rect x="1829.4" y="1204.4" width="4.8" height="4.8" opacity="0.45"/>
<rect x="1840.8" y="1204.4" width="4.8" height="4.8" opacity="1.00"/>
<rect x="1859.6" y="1204.4" width="4.8" height="4.8" opacity="1.00"/>
<rect x="1871.0" y="1204.4" width="4.8" height="4.8" opacity="1.00"/>
<rect x="1889.3" y="1204.4" width="4.8" height="4.8" opacity="1.00"/>
<rect x="1900.8" y="1204.4" width="4.8" height="4.8" opacity="1.00"/>
<rect x="1908.2" y="1204.4" width="4.8" height="4.8" opacity="0.45"/>
<rect x="1919.6" y="1204.4" width="4.8" height="4.8" opacity="1.00"/>
<rect x="1938.4" y="1204.4" width="4.8" height="4.8" opacity="1.00"/>
<rect x="1949.8" y="1204.4" width="4.8" height="4.8" opacity="1.00"/>
</g>
<rect x="708.3" y="1149.0" width="29.2" height="29.2" fill="#000"/>
<rect x="1130.1" y="945.8" width="29.2" height="29.2" fill="#000"/>
<rect x="1349.4" y="887.7" width="29.2" height="29.2" fill="#000"/>
<rect x="1821.8" y="677.1" width="29.2" height="29.2" fill="#000"/>
<rect x="1889.3" y="590.0" width="29.2" height="29.2" fill="#000"/>
<rect x="639.1" y="1125.6" width="31.8" height="31.8" rx="14.3" ry="14.3" fill="#ff0000"/>
<rect x="1078.2" y="907.8" width="31.8" height="31.8" rx="14.3" ry="14.3" fill="#ff0000"/>
<rect x="1314.7" y="791.6" width="31.8" height="31.8" rx="14.3" ry="14.3" fill="#ff0000"/>
<rect x="1787.6" y="566.5" width="31.8" height="31.8" rx="14.3" ry="14.3" fill="#ff0000"/>
<rect x="1888.9" y="464.9" width="31.8" height="31.8" rx="14.3" ry="14.3" fill="#ff0000"/>
<polygon points="587.4,1068.0 606.9,1102.0 567.9,1102.0" fill="#0000ff"/>
<polygon points="874.4,886.5 893.9,920.5 854.9,920.5" fill="#0000ff"/>
<polygon points="1110.8,726.8 1130.3,760.8 1091.3,760.8" fill="#0000ff"/>
<polygon points="1397.9,545.3 1417.4,579.3 1378.4,579.3" fill="#0000ff"/>
<polygon points="1651.1,400.1 1670.6,434.1 1631.6,434.1" fill="#0000ff"/>
<line x1="587.5" y1="1108.2" x2="1651.5" y2="403.2" stroke="#ff0000" stroke-opacity="0.82" stroke-width="3.1" stroke-dasharray="4.5 4.6"/>
<line x1="655.0" y1="1138.0" x2="1906.0" y2="511.5" stroke="#ff0000" stroke-opacity="0.82" stroke-width="3.1" stroke-dasharray="4.5 4.6"/>
<line x1="722.7" y1="1141.0" x2="1906.0" y2="646.8" stroke="#ff0000" stroke-opacity="0.82" stroke-width="3.1" stroke-dasharray="4.5 4.6"/>
<rect x="1431" y="1039" width="467" height="271" fill="#fff"/>
<rect x="1432" y="1039.2" width="459" height="4.4" fill="#bcbcbc"/>
<rect x="1888.3" y="1041" width="4.6" height="269" fill="#1a1a1a"/>
<rect x="1528.2" y="1087.5" width="31.0" height="31.0" fill="#000"/>
<rect x="1527.4" y="1163.9" width="32.4" height="32.4" rx="14.3" ry="14.3" fill="#ff0000"/>
<polygon points="1543.6,1238 1563.6,1272.5 1523.6,1272.5" fill="#0000ff"/>
<text class="t" x="1628" y="1121.7" font-size="52" font-weight="700" textLength="54" lengthAdjust="spacingAndGlyphs">4a</text>
<text class="t" transform="translate(1685.3,1129.5) skewX(-6.5)" font-size="64">/</text>
<text class="t" x="1710.3" y="1121.7" font-size="52" textLength="151.8" lengthAdjust="spacingAndGlyphs">DMAP</text>
<text class="t" x="1628" y="1200.6" font-size="52" font-weight="700" textLength="54" lengthAdjust="spacingAndGlyphs">5a</text>
<text class="t" transform="translate(1685.3,1208.4) skewX(-6.5)" font-size="64">/</text>
<text class="t" x="1710.3" y="1200.6" font-size="52" textLength="151.8" lengthAdjust="spacingAndGlyphs">DMAP</text>
<text class="t" x="1628" y="1279.4" font-size="52" font-weight="700" textLength="54" lengthAdjust="spacingAndGlyphs">6a</text>
<text class="t" transform="translate(1685.3,1287.2) skewX(-6.5)" font-size="64">/</text>
<text class="t" x="1710.3" y="1279.4" font-size="52" textLength="151.8" lengthAdjust="spacingAndGlyphs">DMAP</text>
<g stroke="#000" fill="none">
<line x1="217.0" y1="42.9" x2="217.0" y2="1377.2" stroke-width="7.4"/>
<line x1="190.0" y1="1352.2" x2="1990.3" y2="1352.2" stroke-width="4.7" stroke="#141414"/>
<line x1="190.0" y1="45.2" x2="1990.3" y2="45.2" stroke-width="4.5" stroke="#1a1a1a"/>
<line x1="1988.0" y1="42.9" x2="1988.0" y2="1364.7" stroke-width="4.6" stroke="#1a1a1a"/>
<line x1="300.2" y1="1352.2" x2="300.2" y2="1366.2" stroke-width="4"/>
<line x1="300.2" y1="45.2" x2="300.2" y2="58.2" stroke-width="4"/>
<line x1="384.7" y1="1352.2" x2="384.7" y2="1377.2" stroke-width="5.8"/>
<line x1="384.7" y1="45.2" x2="384.7" y2="70.2" stroke-width="5.6"/>
<line x1="469.2" y1="1352.2" x2="469.2" y2="1366.2" stroke-width="4"/>
<line x1="469.2" y1="45.2" x2="469.2" y2="58.2" stroke-width="4"/>
<line x1="553.7" y1="1352.2" x2="553.7" y2="1377.2" stroke-width="5.8"/>
<line x1="553.7" y1="45.2" x2="553.7" y2="70.2" stroke-width="5.6"/>
<line x1="638.1" y1="1352.2" x2="638.1" y2="1366.2" stroke-width="4"/>
<line x1="638.1" y1="45.2" x2="638.1" y2="58.2" stroke-width="4"/>
<line x1="722.6" y1="1352.2" x2="722.6" y2="1377.2" stroke-width="5.8"/>
<line x1="722.6" y1="45.2" x2="722.6" y2="70.2" stroke-width="5.6"/>
<line x1="807.1" y1="1352.2" x2="807.1" y2="1366.2" stroke-width="4"/>
<line x1="807.1" y1="45.2" x2="807.1" y2="58.2" stroke-width="4"/>
<line x1="891.6" y1="1352.2" x2="891.6" y2="1377.2" stroke-width="5.8"/>
<line x1="891.6" y1="45.2" x2="891.6" y2="70.2" stroke-width="5.6"/>
<line x1="976.1" y1="1352.2" x2="976.1" y2="1366.2" stroke-width="4"/>
<line x1="976.1" y1="45.2" x2="976.1" y2="58.2" stroke-width="4"/>
<line x1="1060.6" y1="1352.2" x2="1060.6" y2="1377.2" stroke-width="5.8"/>
<line x1="1060.6" y1="45.2" x2="1060.6" y2="70.2" stroke-width="5.6"/>
<line x1="1145.1" y1="1352.2" x2="1145.1" y2="1366.2" stroke-width="4"/>
<line x1="1145.1" y1="45.2" x2="1145.1" y2="58.2" stroke-width="4"/>
<line x1="1229.6" y1="1352.2" x2="1229.6" y2="1377.2" stroke-width="5.8"/>
<line x1="1229.6" y1="45.2" x2="1229.6" y2="70.2" stroke-width="5.6"/>
<line x1="1314.1" y1="1352.2" x2="1314.1" y2="1366.2" stroke-width="4"/>
<line x1="1314.1" y1="45.2" x2="1314.1" y2="58.2" stroke-width="4"/>
<line x1="1398.6" y1="1352.2" x2="1398.6" y2="1377.2" stroke-width="5.8"/>
<line x1="1398.6" y1="45.2" x2="1398.6" y2="70.2" stroke-width="5.6"/>
<line x1="1483.0" y1="1352.2" x2="1483.0" y2="1366.2" stroke-width="4"/>
<line x1="1483.0" y1="45.2" x2="1483.0" y2="58.2" stroke-width="4"/>
<line x1="1567.5" y1="1352.2" x2="1567.5" y2="1377.2" stroke-width="5.8"/>
<line x1="1567.5" y1="45.2" x2="1567.5" y2="70.2" stroke-width="5.6"/>
<line x1="1652.0" y1="1352.2" x2="1652.0" y2="1366.2" stroke-width="4"/>
<line x1="1652.0" y1="45.2" x2="1652.0" y2="58.2" stroke-width="4"/>
<line x1="1736.5" y1="1352.2" x2="1736.5" y2="1377.2" stroke-width="5.8"/>
<line x1="1736.5" y1="45.2" x2="1736.5" y2="70.2" stroke-width="5.6"/>
<line x1="1821.0" y1="1352.2" x2="1821.0" y2="1366.2" stroke-width="4"/>
<line x1="1821.0" y1="45.2" x2="1821.0" y2="58.2" stroke-width="4"/>
<line x1="1905.5" y1="1352.2" x2="1905.5" y2="1377.2" stroke-width="5.8"/>
<line x1="1905.5" y1="45.2" x2="1905.5" y2="70.2" stroke-width="5.6"/>
<line x1="204.5" y1="1280.0" x2="217.0" y2="1280.0" stroke-width="5.2"/>
<line x1="1974.5" y1="1280.0" x2="1988.0" y2="1280.0" stroke-width="5.2"/>
<line x1="190.0" y1="1206.8" x2="217.0" y2="1206.8" stroke-width="4.7"/>
<line x1="1963.0" y1="1206.8" x2="1988.0" y2="1206.8" stroke-width="4.7" stroke="#161616"/>
<line x1="204.5" y1="1134.8" x2="217.0" y2="1134.8" stroke-width="5.2"/>
<line x1="1974.5" y1="1134.8" x2="1988.0" y2="1134.8" stroke-width="5.2"/>
<line x1="190.0" y1="1061.6" x2="217.0" y2="1061.6" stroke-width="6.4"/>
<line x1="1963.0" y1="1061.6" x2="1988.0" y2="1061.6" stroke-width="6.4" stroke="#161616"/>
<line x1="204.5" y1="989.6" x2="217.0" y2="989.6" stroke-width="5.2"/>
<line x1="1974.5" y1="989.6" x2="1988.0" y2="989.6" stroke-width="5.2"/>
<line x1="190.0" y1="916.4" x2="217.0" y2="916.4" stroke-width="4.7"/>
<line x1="1963.0" y1="916.4" x2="1988.0" y2="916.4" stroke-width="4.7" stroke="#161616"/>
<line x1="204.5" y1="844.4" x2="217.0" y2="844.4" stroke-width="5.2"/>
<line x1="1974.5" y1="844.4" x2="1988.0" y2="844.4" stroke-width="5.2"/>
<line x1="190.0" y1="771.2" x2="217.0" y2="771.2" stroke-width="4.7"/>
<line x1="1963.0" y1="771.2" x2="1988.0" y2="771.2" stroke-width="4.7" stroke="#161616"/>
<line x1="204.5" y1="699.2" x2="217.0" y2="699.2" stroke-width="5.2"/>
<line x1="1974.5" y1="699.2" x2="1988.0" y2="699.2" stroke-width="5.2"/>
<line x1="190.0" y1="626.0" x2="217.0" y2="626.0" stroke-width="4.7"/>
<line x1="1963.0" y1="626.0" x2="1988.0" y2="626.0" stroke-width="4.7" stroke="#161616"/>
<line x1="204.5" y1="554.0" x2="217.0" y2="554.0" stroke-width="5.2"/>
<line x1="1974.5" y1="554.0" x2="1988.0" y2="554.0" stroke-width="5.2"/>
<line x1="190.0" y1="480.8" x2="217.0" y2="480.8" stroke-width="6.4"/>
<line x1="1963.0" y1="480.8" x2="1988.0" y2="480.8" stroke-width="6.4" stroke="#161616"/>
<line x1="204.5" y1="408.8" x2="217.0" y2="408.8" stroke-width="5.2"/>
<line x1="1974.5" y1="408.8" x2="1988.0" y2="408.8" stroke-width="5.2"/>
<line x1="190.0" y1="335.6" x2="217.0" y2="335.6" stroke-width="6.4"/>
<line x1="1963.0" y1="335.6" x2="1988.0" y2="335.6" stroke-width="6.4" stroke="#161616"/>
<line x1="204.5" y1="263.6" x2="217.0" y2="263.6" stroke-width="5.2"/>
<line x1="1974.5" y1="263.6" x2="1988.0" y2="263.6" stroke-width="5.2"/>
<line x1="190.0" y1="190.4" x2="217.0" y2="190.4" stroke-width="4.7"/>
<line x1="1963.0" y1="190.4" x2="1988.0" y2="190.4" stroke-width="4.7" stroke="#161616"/>
<line x1="204.5" y1="118.4" x2="217.0" y2="118.4" stroke-width="5.2"/>
<line x1="1974.5" y1="118.4" x2="1988.0" y2="118.4" stroke-width="5.2"/>
</g>
<text class="t" x="146.5" y="1364.7" font-size="45.5" letter-spacing="-1.5">0</text>
<text class="t" x="146.5" y="1219.5" font-size="45.5" letter-spacing="-1.5">2</text>
<text class="t" x="146.5" y="1074.3" font-size="45.5" letter-spacing="-1.5">4</text>
<text class="t" x="146.5" y="929.1" font-size="45.5" letter-spacing="-1.5">6</text>
<text class="t" x="146.5" y="783.9" font-size="45.5" letter-spacing="-1.5">8</text>
<text class="t" x="122.8" y="638.7" font-size="45.5" letter-spacing="-1.5">10</text>
<text class="t" x="122.8" y="493.5" font-size="45.5" letter-spacing="-1.5">12</text>
<text class="t" x="122.8" y="348.3" font-size="45.5" letter-spacing="-1.5">14</text>
<text class="t" x="122.8" y="203.1" font-size="45.5" letter-spacing="-1.5">16</text>
<text class="t" x="122.8" y="57.9" font-size="45.5" letter-spacing="-1.5">18</text>
<text class="t" x="204.0" y="1432.6" font-size="45.5" letter-spacing="-1.5">0</text>
<text class="t" x="361.0" y="1432.6" font-size="45.5" letter-spacing="-1.5">10</text>
<text class="t" x="530.0" y="1432.6" font-size="45.5" letter-spacing="-1.5">20</text>
<text class="t" x="699.0" y="1432.6" font-size="45.5" letter-spacing="-1.5">30</text>
<text class="t" x="868.0" y="1432.6" font-size="45.5" letter-spacing="-1.5">40</text>
<text class="t" x="1037.0" y="1432.6" font-size="45.5" letter-spacing="-1.5">50</text>
<text class="t" x="1205.9" y="1432.6" font-size="45.5" letter-spacing="-1.5">60</text>
<text class="t" x="1374.9" y="1432.6" font-size="45.5" letter-spacing="-1.5">70</text>
<text class="t" x="1543.9" y="1432.6" font-size="45.5" letter-spacing="-1.5">80</text>
<text class="t" x="1712.9" y="1432.6" font-size="45.5" letter-spacing="-1.5">90</text>
<text class="t" x="1870.0" y="1432.6" font-size="45.5" letter-spacing="-1.5">100</text>
<text class="t" x="882.3" y="1534" font-size="53" font-weight="700">PA</text>
<text class="t" x="963.3" y="1534" font-size="53" font-weight="700" textLength="265.5" lengthAdjust="spacingAndGlyphs">conversion</text>
<text class="t" x="1241.5" y="1534" font-size="53" textLength="80" lengthAdjust="spacingAndGlyphs">[%]</text>
<g transform="translate(76.5,858.4) rotate(-90)">
<text class="t" x="-1.2" y="0" font-size="55" font-weight="700" font-style="italic" textLength="51.8" lengthAdjust="spacingAndGlyphs">M</text>
<text class="t" x="51" y="18.7" font-size="35" font-weight="700" font-style="italic" textLength="22.2" lengthAdjust="spacingAndGlyphs">n</text>
<text class="t" x="88.2" y="-2" font-size="56.5" font-weight="700" textLength="15" lengthAdjust="spacingAndGlyphs">[</text>
<text class="t" x="105.8" y="0" font-size="55" font-weight="700" textLength="61.5" lengthAdjust="spacingAndGlyphs">kg</text>
<text class="t" x="176.3" y="0" font-size="55" font-weight="700">mol</text>
<text class="t" x="272.5" y="-28.5" font-size="44">−</text>
<text class="t" x="297" y="-30.6" font-size="38.5" font-weight="700">1</text>
<text class="t" x="321.6" y="-2" font-size="56.5" font-weight="700" textLength="15" lengthAdjust="spacingAndGlyphs">]</text>
</g>
</g>
<text class="s" x="1002.2" y="1745.8" font-size="85" textLength="25.5" lengthAdjust="spacingAndGlyphs">(</text>
<text class="s" x="1028.4" y="1746" font-size="87" font-weight="700">b</text>
<text class="s" x="1079.8" y="1745.8" font-size="85" textLength="25.5" lengthAdjust="spacingAndGlyphs">)</text>
</svg></body></html>
